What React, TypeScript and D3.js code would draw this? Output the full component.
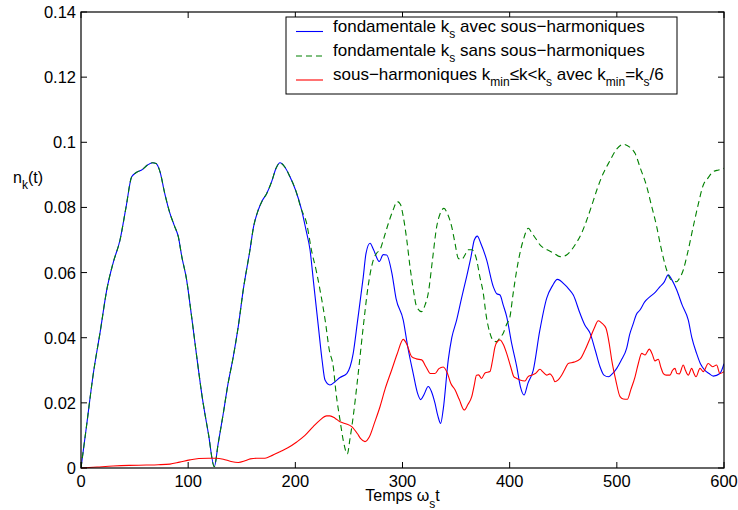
import React from "react";
import * as d3 from "d3";

// ---- data ----
const xTicks = [0, 100, 200, 300, 400, 500, 600];
const yTicks = [0, 0.02, 0.04, 0.06, 0.08, 0.1, 0.12, 0.14];
const yTickLabels = ["0", "0.02", "0.04", "0.06", "0.08", "0.1", "0.12", "0.14"];

// common part of both fundamental curves (t <= 195)
const sharedEarly: [number, number][] = [
  [0, 0], [5, 0.0125], [11.5, 0.029], [18, 0.042], [24, 0.0546], [30, 0.063], [36.4, 0.07], [42, 0.08],
  [47.3, 0.0894], [52, 0.0908], [56.6, 0.0915], [62, 0.093], [66.9, 0.0937], [70, 0.0935], [73.7, 0.091],
  [78, 0.0845], [83, 0.0782], [87, 0.0745], [90.8, 0.071], [94, 0.065], [98.6, 0.0577], [103, 0.047],
  [108, 0.0342], [113, 0.022], [118.8, 0.0107], [124.4, 0.0004], [128, 0.0075], [132.8, 0.0168],
  [137, 0.0255], [142, 0.034], [147, 0.044], [151.4, 0.0547], [157.7, 0.067], [161, 0.074], [165.4, 0.0792],
  [169, 0.082], [173.3, 0.0843], [178, 0.088], [182, 0.092], [185.7, 0.0937], [190, 0.0925], [195, 0.0894],
];

const blueLate: [number, number][] = [
  [200, 0.0855], [205.9, 0.0792], [210, 0.073], [213.7, 0.067], [217, 0.057], [221.5, 0.0434], [225, 0.033],
  [227.7, 0.027], [232.3, 0.0255], [237, 0.0265], [241.7, 0.0278], [248, 0.029], [254, 0.0352], [258, 0.045],
  [263.4, 0.0587], [266, 0.066], [269.7, 0.069], [273, 0.067], [278.3, 0.0634], [282, 0.0655], [285.2, 0.0654],
  [290, 0.06], [294, 0.052], [300.7, 0.0454], [305, 0.037], [310, 0.029], [314, 0.023], [317, 0.021],
  [320, 0.0225], [324, 0.025], [327, 0.0235], [330.3, 0.0199], [333, 0.016], [335.6, 0.0137], [338, 0.018],
  [342.7, 0.0332], [346, 0.04], [350.5, 0.0454], [355, 0.052], [359.8, 0.0587], [364, 0.065], [367, 0.07],
  [369.8, 0.0712], [373, 0.069], [378.5, 0.0639], [384.7, 0.0557], [388, 0.0535], [391, 0.0531], [394, 0.05],
  [397.2, 0.0465], [402, 0.038], [406.6, 0.0311], [410, 0.025], [413.4, 0.0224], [417, 0.026], [422, 0.03],
  [428, 0.042], [434.5, 0.0521], [440, 0.056], [444.5, 0.0579], [451.6, 0.0562], [455, 0.055], [459.4, 0.0531],
  [465.6, 0.0475], [470, 0.044], [475, 0.0414], [480, 0.036], [484.3, 0.0311], [488, 0.0285], [492.1, 0.028],
  [496, 0.029], [499.9, 0.0306], [504, 0.033], [509.2, 0.0368], [512, 0.041], [515.4, 0.0444], [518, 0.047],
  [521.6, 0.0485], [526, 0.051], [531, 0.0526], [536, 0.054], [540.3, 0.0557], [544, 0.057], [548, 0.0593],
  [551, 0.058], [555.8, 0.0547], [561, 0.05], [566.7, 0.0454], [570, 0.04], [574.4, 0.0352], [578, 0.032],
  [582.2, 0.03], [586, 0.029], [590, 0.0282], [596.2, 0.029], [600, 0.032],
];

const greenLate: [number, number][] = [
  [201.3, 0.0843], [205, 0.08], [210.6, 0.075], [215, 0.067], [220, 0.0598], [223, 0.0547], [228, 0.045],
  [231.7, 0.0362], [235.4, 0.0311], [238, 0.023], [241.7, 0.0147], [245, 0.008], [248.5, 0.0043], [251, 0.009],
  [254, 0.0158], [258, 0.027], [263.4, 0.0434], [268, 0.056], [272.8, 0.0639], [276, 0.066], [279, 0.067],
  [283, 0.071], [286.7, 0.075], [291, 0.079], [295.1, 0.0818], [298, 0.081], [300.7, 0.0772], [304, 0.07],
  [307, 0.0618], [310, 0.055], [313.2, 0.0495], [317.9, 0.048], [321, 0.05], [324, 0.0536], [328, 0.064],
  [331.9, 0.0741], [335, 0.078], [338.7, 0.0797], [342, 0.078], [345.9, 0.0741], [349, 0.069], [352, 0.0644],
  [355, 0.064], [358.3, 0.0654], [361, 0.067], [364.6, 0.067], [369.2, 0.0639], [372, 0.059], [375.4, 0.0536],
  [378, 0.047], [381.6, 0.0414], [385, 0.039], [387.9, 0.0388], [391, 0.04], [394, 0.0414], [397, 0.044],
  [400.3, 0.0465], [403, 0.053], [406.6, 0.0608], [409.6, 0.066], [412.7, 0.07], [417.4, 0.0736], [421, 0.072],
  [425.2, 0.07], [428.3, 0.0685], [435, 0.067], [441, 0.066], [447, 0.0649], [452, 0.0652], [456.3, 0.0664],
  [462, 0.069], [467, 0.072], [471.9, 0.0761], [478, 0.082], [482, 0.086], [487.4, 0.0905], [493, 0.094],
  [500, 0.098], [506, 0.0994], [512, 0.0985], [517, 0.0966], [522, 0.092], [527.9, 0.0864], [532, 0.081],
  [537.2, 0.0741], [541, 0.068], [546.5, 0.0608], [550, 0.058], [555.8, 0.0572], [558, 0.058], [562, 0.0608],
  [566, 0.066], [571.3, 0.0741], [576, 0.081], [580.7, 0.0869], [585, 0.089], [590, 0.091], [595, 0.0915],
  [600, 0.092],
];

const redSeries: [number, number][] = [
  [0, 0], [15, 0.0003], [30, 0.0006], [45, 0.0008], [61, 0.0009], [72, 0.001], [83, 0.0012], [92, 0.0018],
  [101.7, 0.0025], [110, 0.0029], [118.8, 0.003], [126, 0.003], [132.8, 0.0027], [140, 0.002], [146.8, 0.0017],
  [153, 0.0022], [158, 0.0028], [164, 0.003], [171.7, 0.003], [178, 0.0038], [185.7, 0.005], [193, 0.0062],
  [201.3, 0.008], [209, 0.01], [216.7, 0.0127], [223, 0.0147], [229.2, 0.016], [232.3, 0.016], [237, 0.0153],
  [241.7, 0.0142], [247, 0.0136], [252.6, 0.0127], [258, 0.0105], [261, 0.009], [265, 0.0081], [269, 0.0095],
  [274, 0.014], [279, 0.0188], [284, 0.0245], [289.9, 0.0301], [295, 0.035], [300.7, 0.0395], [304, 0.038],
  [308.5, 0.0342], [313, 0.0335], [317.9, 0.0332], [322, 0.031], [326, 0.029], [330.3, 0.029], [334, 0.0305],
  [338, 0.031], [342, 0.029], [345, 0.026], [349, 0.024], [353, 0.021], [357.6, 0.0178], [361, 0.0195],
  [364.6, 0.0219], [367, 0.0255], [369, 0.0285], [371, 0.0286], [373.8, 0.0275], [377, 0.0292], [381.6, 0.0296],
  [384, 0.033], [386.3, 0.0372], [389, 0.039], [391, 0.0393], [394, 0.038], [397.2, 0.0352], [401, 0.031],
  [404, 0.028], [406.6, 0.0275], [409.6, 0.027], [414.3, 0.0267], [417, 0.028], [420.5, 0.0285], [424, 0.029],
  [428.3, 0.0303], [431, 0.0295], [434.5, 0.0285], [437.6, 0.0289], [440, 0.028], [442.3, 0.0265], [445, 0.027],
  [448.5, 0.0285], [451, 0.03], [454.7, 0.0321], [460, 0.0325], [465.6, 0.0334], [470, 0.036], [475, 0.0398],
  [479, 0.043], [482.7, 0.0452], [486, 0.0445], [489.9, 0.0429], [493, 0.038], [495.2, 0.0332], [499, 0.027],
  [503, 0.0219], [506, 0.0212], [509.8, 0.0211], [513, 0.024], [517, 0.028], [520, 0.032], [523.2, 0.0352],
  [526.3, 0.0347], [530.3, 0.0365], [533, 0.035], [535.6, 0.0329], [538.7, 0.0334], [541, 0.031], [543.4, 0.029],
  [546, 0.0285], [549.6, 0.0285], [552, 0.03], [554.3, 0.0306], [556, 0.029], [558.3, 0.0289], [562, 0.0316],
  [564, 0.03], [566.7, 0.0285], [569.8, 0.0306], [572, 0.029], [573.8, 0.028], [577.6, 0.0306], [580.7, 0.0296],
  [585.3, 0.0321], [589.4, 0.0311], [593.1, 0.0316], [596.2, 0.029], [600, 0.0296],
];

const blueSeries = [...sharedEarly, ...blueLate];
const greenSeries = [...sharedEarly, ...greenLate];

// ---- layout ----
const W = 738;
const H = 510;
const L = 81, R = 724, T = 12, B = 468;
const FONT = "'Liberation Sans', Arial, Helvetica, sans-serif";
const TICK_FS = 16.5;
const LEG_FS = 17;
const SUB_FS = 12;

export default function App() {
  const x = d3.scaleLinear().domain([0, 600]).range([L, R]);
  const y = d3.scaleLinear().domain([0, 0.14]).range([B, T]);
  const line = d3
    .line<[number, number]>()
    .x((d) => x(d[0]))
    .y((d) => y(d[1]))
    .curve(d3.curveMonotoneX);

  const tick = 6;
  const Sub = ({ children }: { children: React.ReactNode }) => (
    <tspan fontSize={SUB_FS} dy={6}>{children}</tspan>
  );
  return (
    <svg
      width={W}
      height={H}
      style={{ position: "absolute", left: 0, top: 0, background: "#fff" }}
      fontFamily={FONT}
    >
      <rect x={0} y={0} width={W} height={H} fill="#fff" />
      <defs>
        <clipPath id="plotclip">
          <rect x={L} y={T - 1} width={R - L} height={B - T + 2} />
        </clipPath>
      </defs>

      <g clipPath="url(#plotclip)" fill="none" strokeWidth={1.1}>
        <path d={line(blueSeries) || ""} stroke="#0000ff" />
        <path d={line(greenSeries) || ""} stroke="#008000" strokeDasharray="6,4" />
        <path d={line(redSeries) || ""} stroke="#ff0000" />
      </g>

      {/* ticks */}
      <g stroke="#000" strokeWidth={1}>
        {xTicks.map((t) => (
          <g key={"xt" + t}>
            <line x1={x(t)} x2={x(t)} y1={B} y2={B - tick} />
            <line x1={x(t)} x2={x(t)} y1={T} y2={T + tick} />
          </g>
        ))}
        {yTicks.map((t) => (
          <g key={"yt" + t}>
            <line x1={L} x2={L + tick} y1={y(t)} y2={y(t)} />
            <line x1={R} x2={R - tick} y1={y(t)} y2={y(t)} />
          </g>
        ))}
      </g>
      <rect x={L} y={T} width={R - L} height={B - T} fill="none" stroke="#000" strokeWidth={1.2} />

      {/* tick labels */}
      <g fontSize={TICK_FS} fill="#000">
        {xTicks.map((t) => (
          <text key={"xl" + t} x={x(t)} y={B + 19} textAnchor="middle">
            {t}
          </text>
        ))}
        {yTicks.map((t, i) => (
          <text key={"yl" + t} x={L - 5} y={y(t) + 6} textAnchor="end">
            {yTickLabels[i]}
          </text>
        ))}
      </g>

      {/* axis labels */}
      <text x={13} y={183} fontSize={16} fill="#000">
        n<Sub>k</Sub>
        <tspan dy={-6}>(t)</tspan>
      </text>
      <text x={(L + R) / 2} y={500.5} fontSize={16} fill="#000" textAnchor="middle">
        Temps ω<tspan fontSize={SUB_FS} dy={7}>s</tspan>
        <tspan dy={-7}>t</tspan>
      </text>

      {/* legend */}
      <g>
        <rect x={286} y={17} width={391} height={77} fill="#fff" stroke="#000" strokeWidth={1} />
        <line x1={296} x2={323} y1={31.5} y2={31.5} stroke="#0000ff" strokeWidth={1.1} />
        <line x1={296} x2={323} y1={56} y2={56} stroke="#008000" strokeWidth={1.1} strokeDasharray="6,4" />
        <line x1={296} x2={323} y1={80} y2={80} stroke="#ff0000" strokeWidth={1.1} />
        <g fontSize={LEG_FS} fill="#000">
          <text x={333} y={32}>
            fondamentale k<Sub>s</Sub>
            <tspan dy={-6}> avec sous−harmoniques</tspan>
          </text>
          <text x={333} y={56}>
            fondamentale k<Sub>s</Sub>
            <tspan dy={-6}> sans sous−harmoniques</tspan>
          </text>
          <text x={333} y={80}>
            sous−harmoniques k<Sub>min</Sub>
            <tspan dy={-6}>≤k&lt;k</tspan>
            <Sub>s</Sub>
            <tspan dy={-6}> avec k</tspan>
            <Sub>min</Sub>
            <tspan dy={-6}>=k</tspan>
            <Sub>s</Sub>
            <tspan dy={-6}>/6</tspan>
          </text>
        </g>
      </g>
    </svg>
  );
}
